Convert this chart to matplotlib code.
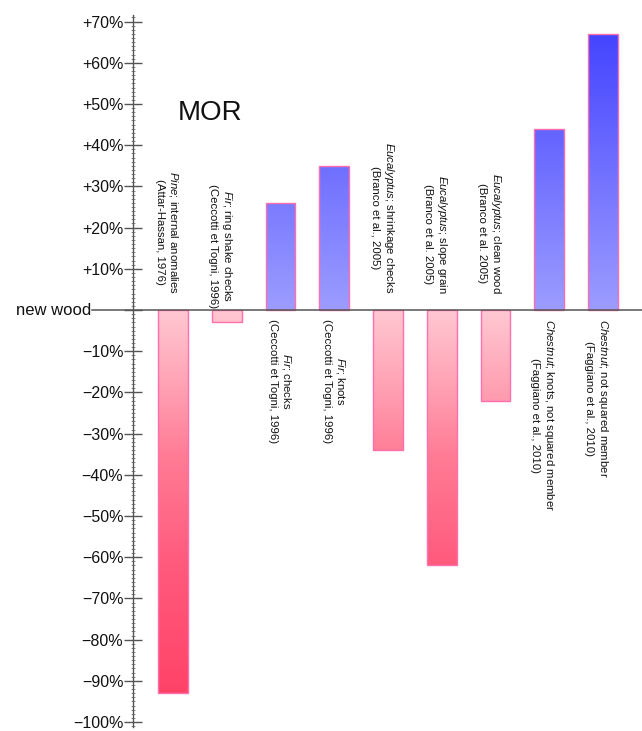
import matplotlib
matplotlib.use("Agg")
import matplotlib.pyplot as plt
import numpy as np
from matplotlib.colors import LinearSegmentedColormap
from matplotlib.ticker import MultipleLocator, FuncFormatter

plt.rcParams['font.family'] = ['Liberation Sans', 'DejaVu Sans']
plt.rcParams['mathtext.fontset'] = 'custom'
plt.rcParams['mathtext.rm'] = 'Liberation Sans'
plt.rcParams['mathtext.it'] = 'Liberation Sans:italic'

# ---- data ----
species = ["Pine", "Fir", "Fir", "Fir", "Eucalyptus", "Eucalyptus", "Eucalyptus", "Chestnut", "Chestnut"]
defects = ["internal anomalies", "ring shake checks", "checks", "knots", "shrinkage checks",
           "slope grain", "clean wood", "knots, not squared member", "not squared member"]
sources = ["(Attar-Hassan, 1976)", "(Ceccotti et Togni, 1996)", "(Ceccotti et Togni, 1996)",
           "(Ceccotti et Togni, 1996)", "(Branco et al., 2005)", "(Branco et al. 2005)",
           "(Branco et al. 2005)", "(Faggiano et al., 2010)", "(Faggiano et al., 2010)"]
values = [-93, -3, 26, 35, -34, -62, -22, 44, 67]
title = "MOR"
zero_label = "new wood"

# ---- figure ----
W, H = 642, 731
fig = plt.figure(figsize=(W / 100, H / 100), dpi=100)
ax_left = 133 / W
ax_bottom = (H - 727) / H
ax_top = (H - 15) / H
ax = fig.add_axes([ax_left, ax_bottom, 1 - ax_left, ax_top - ax_bottom])

n = len(values)
x = np.arange(n)
xlim = (-0.744, n - 1 + 0.726)
ylim = (-101.2, 71.6)

blue_cmap = LinearSegmentedColormap.from_list(
    "b", [(0.0, "#9c9cff"), (0.4, "#7878ff"), (1.0, "#4040ff")])
red_cmap = LinearSegmentedColormap.from_list(
    "r", [(0.0, "#ffc8d2"), (0.22, "#ff9aae"), (0.35, "#ff7c96"), (0.62, "#ff5a7c"), (1.0, "#ff3e63")])
grad = np.linspace(0, 1, 256).reshape(-1, 1)

edge = "#ff6fae"
bars = ax.bar(x, values, width=0.55, facecolor="none", edgecolor=edge, linewidth=1.0, zorder=3)
for xi, v, b in zip(x, values, bars):
    if v >= 0:
        im = ax.imshow(grad, cmap=blue_cmap, aspect="auto", origin="lower",
                       extent=[xi - 0.3, xi + 0.3, 0, 70], zorder=2, interpolation="bilinear")
    else:
        im = ax.imshow(grad, cmap=red_cmap, aspect="auto", origin="upper",
                       extent=[xi - 0.3, xi + 0.3, -100, 0], zorder=2, interpolation="bilinear")
    im.set_clip_path(b)
ax.set_xlim(*xlim)
ax.set_ylim(*ylim)

# labels
for i, (sp, d, src, v) in enumerate(zip(species, defects, sources, values)):
    txt = f"$\\mathit{{{sp}}}$; {d}\n{src}"
    if v < 0:
        ypos = 0.4 if abs(v) < 5 else 4
        va = "bottom"
        dx = -0.1
    else:
        ypos = -2.2
        va = "top"
        dx = 0.0 if sp == "Fir" else -0.12
    ax.text(i + dx, ypos, txt, rotation=-90, ha="center", va=va, multialignment="center",
            fontsize=8.2, color="#111111", zorder=4, linespacing=1.25)

# axes styling
axis_col = "#555555"
for s in ["top", "right", "bottom"]:
    ax.spines[s].set_visible(False)
ax.spines["left"].set_color(axis_col)
ax.spines["left"].set_linewidth(1.0)
ax.xaxis.set_visible(False)

ax.yaxis.set_major_locator(MultipleLocator(10))
ax.yaxis.set_minor_locator(MultipleLocator(1))


def fmt(v, pos):
    v = int(round(v))
    if v == 0:
        return ""
    if v > 0:
        return f"+{v}%"
    return f"\u2212{abs(v)}%"


ax.yaxis.set_major_formatter(FuncFormatter(fmt))
ax.tick_params(axis="y", which="major", direction="inout", length=13, width=1.0,
               color=axis_col, labelsize=11.5, pad=0.5, labelcolor="#111111")
ax.tick_params(axis="y", which="minor", direction="inout", length=3, width=0.6, color="#777777")

# zero line extending left
yt = ax.get_yaxis_transform()
ax.plot([-0.0806, 1.0], [0, 0], transform=yt, color=axis_col, linewidth=1.1, clip_on=False, zorder=5)
ax.text(-0.0825, 0, zero_label, transform=yt, ha="right", va="center", fontsize=12, color="#111111")

# title
ax.text(178 / W, (H - 113) / H, title, transform=fig.transFigure, ha="left", va="center",
        fontsize=20, color="#111111")

fig.savefig("out.png", dpi=100)
